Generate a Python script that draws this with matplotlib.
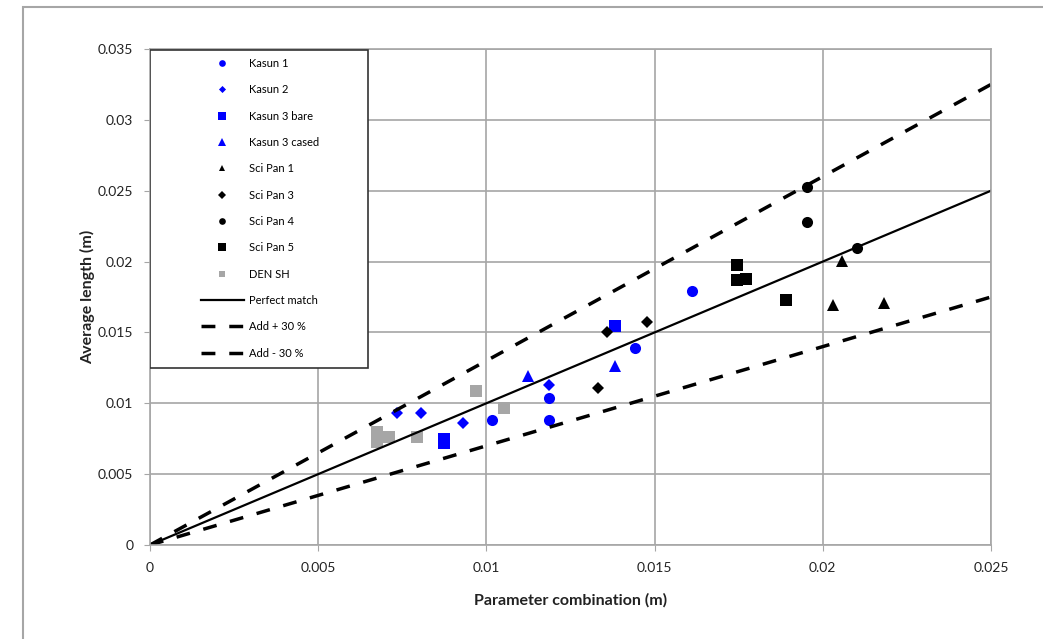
import matplotlib.pyplot as plt
from matplotlib.patches import Rectangle

plt.rcParams['font.family'] = ['Lato', 'DejaVu Sans']

# measured series (parameter combination, average length), metres
kasun1_x = [0.01017, 0.01186, 0.01186, 0.01442, 0.01611]
kasun1_y = [0.00882, 0.01037, 0.00882, 0.01390, 0.01792]
kasun2_x = [0.00734, 0.00806, 0.00930, 0.01186]
kasun2_y = [0.00931, 0.00931, 0.00861, 0.01129]
kasun3b_x = [0.00874, 0.00874, 0.01382]
kasun3b_y = [0.00750, 0.00722, 0.01545]
kasun3c_x = [0.01124, 0.01382]
kasun3c_y = [0.01193, 0.01263]
scipan1_x = [0.02057, 0.02030, 0.02182]
scipan1_y = [0.02004, 0.01694, 0.01708]
scipan3_x = [0.01359, 0.01477, 0.01332]
scipan3_y = [0.01503, 0.01574, 0.01108]
scipan4_x = [0.01953, 0.01953, 0.02102]
scipan4_y = [0.02526, 0.02279, 0.02096]
scipan5_x = [0.01745, 0.01745, 0.01772, 0.01891]
scipan5_y = [0.01976, 0.01870, 0.01877, 0.01729]
densh_x = [0.00675, 0.00675, 0.00710, 0.00794, 0.00969, 0.01052]
densh_y = [0.00797, 0.00727, 0.00762, 0.00762, 0.01087, 0.00967]

line_x = [0, 0.025]

fig = plt.figure(figsize=(10.43, 6.39), dpi=100)
ax = fig.add_axes([0.1438, 0.1471, 0.8063, 0.7762])

# page border
fig.patches.append(Rectangle((0.022, -0.01), 1.0, 1 - 7 / 639 + 0.01,
                             transform=fig.transFigure, fill=False,
                             edgecolor='#a6a6a6', lw=1.5))

blue = '#0000ff'
ax.plot(kasun1_x, kasun1_y, 'o', color=blue, ms=8, mew=0, label='Kasun 1')
ax.plot(kasun2_x, kasun2_y, 'D', color=blue, ms=6, mew=0, label='Kasun 2')
ax.plot(kasun3b_x, kasun3b_y, 's', color=blue, ms=9, mew=0, label='Kasun 3 bare')
ax.plot(kasun3c_x, kasun3c_y, '^', color=blue, ms=9, mew=0, label='Kasun 3 cased')
ax.plot(scipan1_x, scipan1_y, '^', color='k', ms=8, mew=0, label='Sci Pan 1')
ax.plot(scipan3_x, scipan3_y, 'D', color='k', ms=6.5, mew=0, label='Sci Pan 3')
ax.plot(scipan4_x, scipan4_y, 'o', color='k', ms=8, mew=0, label='Sci Pan 4')
ax.plot(scipan5_x, scipan5_y, 's', color='k', ms=9, mew=0, label='Sci Pan 5')
ax.plot(densh_x, densh_y, 's', color='#a6a6a6', ms=8, mew=0, label='DEN SH')

ax.plot(line_x, [x for x in line_x], color='k', lw=1.6, label='Perfect match')
ax.plot(line_x, [1.3 * x for x in line_x], color='k', lw=2.5,
        linestyle=(0, (4, 4)), label='Add + 30 %')
ax.plot(line_x, [0.7 * x for x in line_x], color='k', lw=2.5,
        linestyle=(0, (4, 4)), label='Add - 30 %')

ax.set_xlim(0, 0.025)
ax.set_ylim(0, 0.035)
ax.set_xticks([0, 0.005, 0.01, 0.015, 0.02, 0.025])
ax.set_xticklabels(['0', '0.005', '0.01', '0.015', '0.02', '0.025'])
ax.set_yticks([0, 0.005, 0.01, 0.015, 0.02, 0.025, 0.03, 0.035])
ax.set_yticklabels(['0', '0.005', '0.01', '0.015', '0.02', '0.025', '0.03', '0.035'])
ax.grid(True, color='#a6a6a6', lw=1.2)
ax.set_axisbelow(True)
for s in ax.spines.values():
    s.set_color('#a6a6a6')
    s.set_linewidth(1.2)
ax.tick_params(length=4, color='#a6a6a6', labelsize=10, labelcolor='#222222', pad=8)

ax.set_xlabel('Parameter combination (m)', fontsize=11.5, fontweight='bold',
              color='#222222', labelpad=14)
ax.set_ylabel('Average length (m)', fontsize=11.5, fontweight='bold',
              color='#222222', labelpad=2)

# legend box
ax.add_patch(Rectangle((0, 0.357), 0.259, 0.641, transform=ax.transAxes,
                       facecolor='white', edgecolor='#333333', lw=1.2, zorder=5))
leg = ax.legend(loc='upper left', bbox_to_anchor=(0.0535, 0.993), frameon=False,
                fontsize=8, labelspacing=1.38, handlelength=3.9,
                handletextpad=0.5, borderpad=0, markerscale=0.6)
leg.set_zorder(6)

fig.savefig('out.png', dpi=100)
